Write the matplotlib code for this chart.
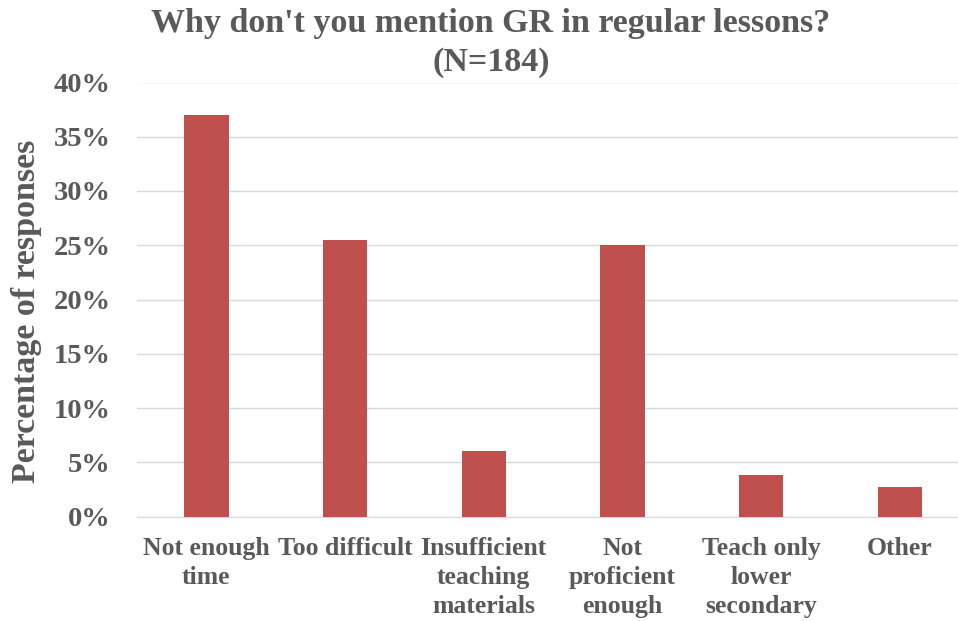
import matplotlib
matplotlib.use("Agg")
import matplotlib.pyplot as plt
from matplotlib.ticker import PercentFormatter

categories = ["Not enough\ntime", "Too difficult", "Insufficient\nteaching\nmaterials",
              "Not\nproficient\nenough", "Teach only\nlower\nsecondary", "Other"]
values = [37.0, 25.5, 6.0, 25.0, 3.8, 2.7]
yticks = [0, 5, 10, 15, 20, 25, 30, 35, 40]

W, H = 958, 621
fig = plt.figure(figsize=(W/100, H/100), dpi=100)
ax = fig.add_axes([137/W, 1 - 516.5/H, (958-137)/W, (516.5-82.5)/H])

txt = "#595959"
font = ["Liberation Serif", "DejaVu Serif"]
x = list(range(len(categories)))
ax.bar(x, values, width=0.32, color="#C0504D", zorder=3)
ax.set_xlim(-0.5, 5.42)
ax.set_ylim(0, 40)
ax.set_yticks(yticks)
ax.yaxis.set_major_formatter(PercentFormatter(decimals=0))
ax.grid(axis="y", color="#D9D9D9", linewidth=1, zorder=0)
for s in ["top", "right", "left"]:
    ax.spines[s].set_visible(False)
ax.spines["bottom"].set_color("#D9D9D9")
ax.tick_params(axis="both", length=0)
ax.tick_params(axis="y", pad=19)
ax.tick_params(axis="x", pad=15)
ax.set_xticks(x)
ax.set_xticklabels(categories, fontfamily=font, fontweight="bold", fontsize=18.5,
                   color=txt, linespacing=1.33, va="top")
for lab in ax.get_yticklabels():
    lab.set_fontfamily(font); lab.set_fontweight("bold"); lab.set_fontsize(20.5); lab.set_color(txt)
ax.set_ylabel("Percentage of responses", fontfamily=font, fontweight="bold",
              fontsize=24.5, color=txt)
ax.yaxis.set_label_coords(-(137 - 42) / (958 - 137), (516.5 - 311) / (516.5 - 82.5))

fig.text(491/W, 1 - 43/H, "Why don't you mention GR in regular lessons?\n(N=184)",
         ha="center", va="center", fontfamily=font, fontweight="bold", fontsize=24.5,
         color=txt, linespacing=1.33)

fig.savefig("out.png", dpi=100)
